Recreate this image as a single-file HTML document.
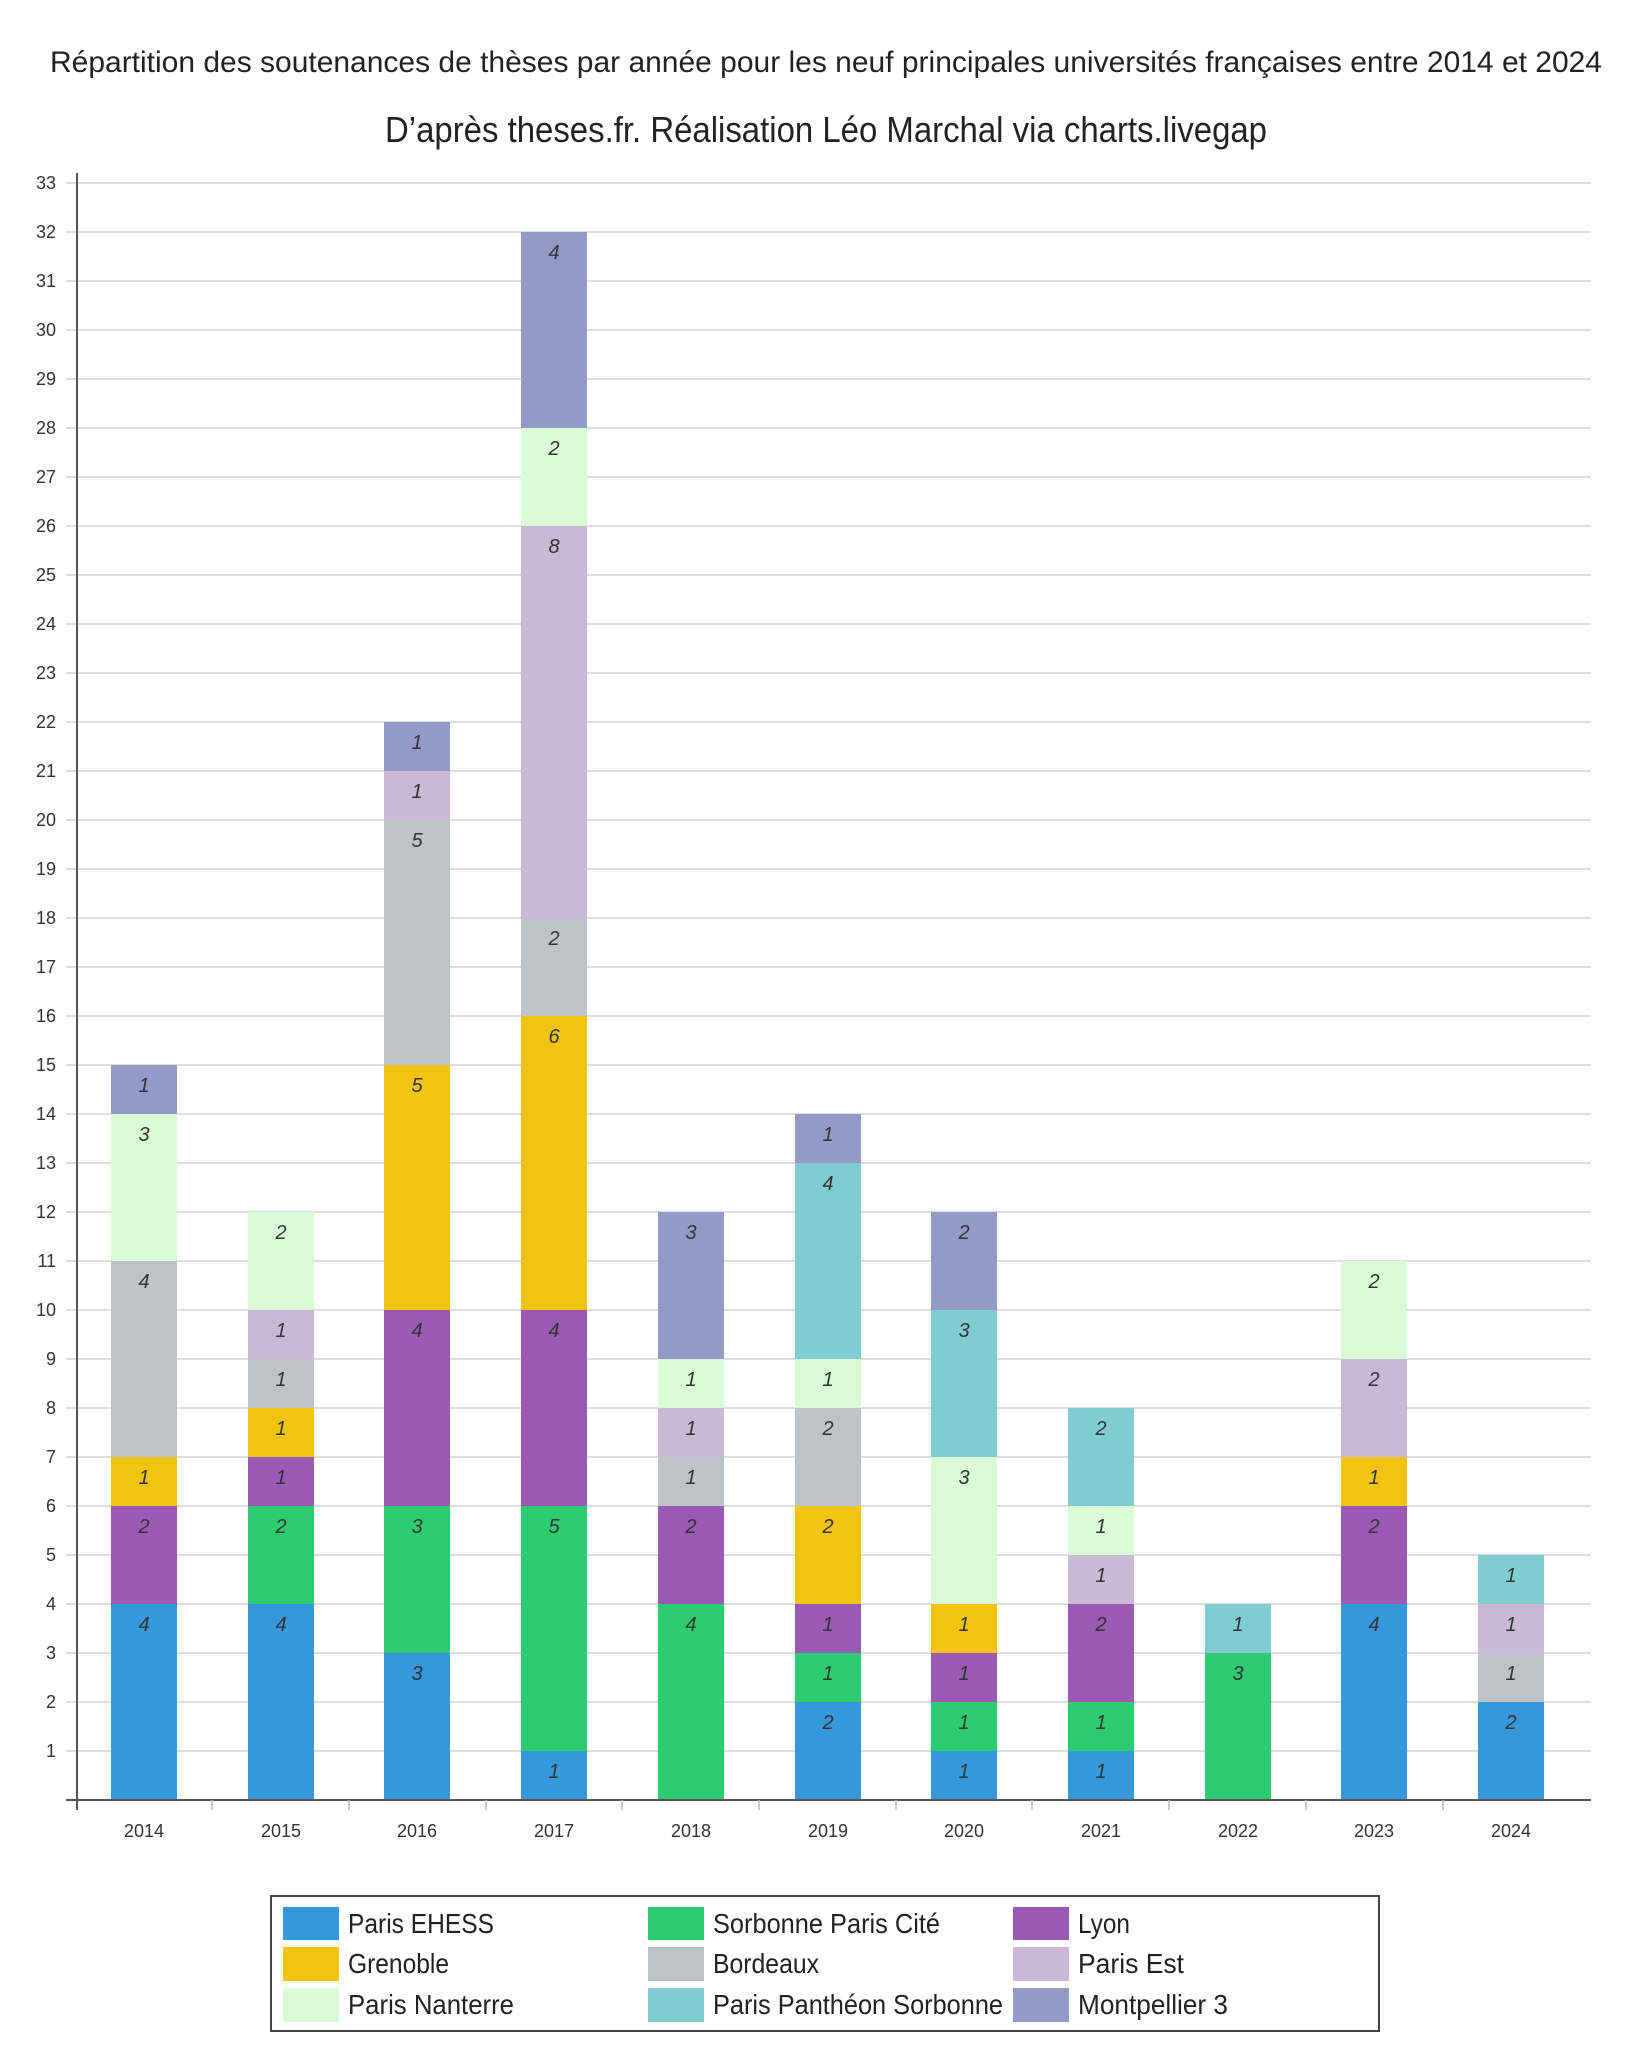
<!DOCTYPE html>
<html><head><meta charset="utf-8"><style>
html,body{margin:0;padding:0;background:#fff;}
svg{display:block;font-family:"Liberation Sans Narrow","Liberation Sans",sans-serif;}
.v{font-size:20px;font-style:italic;fill:#333;text-anchor:middle;}
.yl{font-size:18px;fill:#333;text-anchor:end;}
.xl{font-size:18px;fill:#333;text-anchor:middle;}
.lg{font-size:28px;fill:#222;}
</style></head><body>
<svg width="1652" height="2048" viewBox="0 0 1652 2048" xmlns="http://www.w3.org/2000/svg">
<rect width="1652" height="2048" fill="#fff"/>
<text x="826" y="72" font-size="30" fill="#222" text-anchor="middle" textLength="1552" lengthAdjust="spacingAndGlyphs">Répartition des soutenances de thèses par année pour les neuf principales universités françaises entre 2014 et 2024</text>
<text x="826" y="142" font-size="36" fill="#222" text-anchor="middle" textLength="882" lengthAdjust="spacingAndGlyphs">D’après theses.fr. Réalisation Léo Marchal via charts.livegap</text>
<g stroke="#d4d4d4" stroke-width="1.5">
<line x1="66" x2="1591" y1="1751" y2="1751"/><line x1="66" x2="1591" y1="1702" y2="1702"/><line x1="66" x2="1591" y1="1653" y2="1653"/><line x1="66" x2="1591" y1="1604" y2="1604"/><line x1="66" x2="1591" y1="1555" y2="1555"/><line x1="66" x2="1591" y1="1506" y2="1506"/><line x1="66" x2="1591" y1="1457" y2="1457"/><line x1="66" x2="1591" y1="1408" y2="1408"/><line x1="66" x2="1591" y1="1359" y2="1359"/><line x1="66" x2="1591" y1="1310" y2="1310"/><line x1="66" x2="1591" y1="1261" y2="1261"/><line x1="66" x2="1591" y1="1212" y2="1212"/><line x1="66" x2="1591" y1="1163" y2="1163"/><line x1="66" x2="1591" y1="1114" y2="1114"/><line x1="66" x2="1591" y1="1065" y2="1065"/><line x1="66" x2="1591" y1="1016" y2="1016"/><line x1="66" x2="1591" y1="967" y2="967"/><line x1="66" x2="1591" y1="918" y2="918"/><line x1="66" x2="1591" y1="869" y2="869"/><line x1="66" x2="1591" y1="820" y2="820"/><line x1="66" x2="1591" y1="771" y2="771"/><line x1="66" x2="1591" y1="722" y2="722"/><line x1="66" x2="1591" y1="673" y2="673"/><line x1="66" x2="1591" y1="624" y2="624"/><line x1="66" x2="1591" y1="575" y2="575"/><line x1="66" x2="1591" y1="526" y2="526"/><line x1="66" x2="1591" y1="477" y2="477"/><line x1="66" x2="1591" y1="428" y2="428"/><line x1="66" x2="1591" y1="379" y2="379"/><line x1="66" x2="1591" y1="330" y2="330"/><line x1="66" x2="1591" y1="281" y2="281"/><line x1="66" x2="1591" y1="232" y2="232"/><line x1="66" x2="1591" y1="183" y2="183"/>
</g>
<g class="yl">
<text x="56" y="1757">1</text><text x="56" y="1708">2</text><text x="56" y="1659">3</text><text x="56" y="1610">4</text><text x="56" y="1561">5</text><text x="56" y="1512">6</text><text x="56" y="1463">7</text><text x="56" y="1414">8</text><text x="56" y="1365">9</text><text x="56" y="1316">10</text><text x="56" y="1267">11</text><text x="56" y="1218">12</text><text x="56" y="1169">13</text><text x="56" y="1120">14</text><text x="56" y="1071">15</text><text x="56" y="1022">16</text><text x="56" y="973">17</text><text x="56" y="924">18</text><text x="56" y="875">19</text><text x="56" y="826">20</text><text x="56" y="777">21</text><text x="56" y="728">22</text><text x="56" y="679">23</text><text x="56" y="630">24</text><text x="56" y="581">25</text><text x="56" y="532">26</text><text x="56" y="483">27</text><text x="56" y="434">28</text><text x="56" y="385">29</text><text x="56" y="336">30</text><text x="56" y="287">31</text><text x="56" y="238">32</text><text x="56" y="189">33</text>
</g>
<g transform="translate(111,0)">
<rect y="1604" width="66" height="196" fill="#3498db"/><text class="v" x="33" y="1631">4</text>
<rect y="1506" width="66" height="98" fill="#9b59b6"/><text class="v" x="33" y="1533">2</text>
<rect y="1457" width="66" height="49" fill="#f1c40f"/><text class="v" x="33" y="1484">1</text>
<rect y="1261" width="66" height="196" fill="#bdc3c7"/><text class="v" x="33" y="1288">4</text>
<rect y="1114" width="66" height="147" fill="#d9fcd7"/><text class="v" x="33" y="1141">3</text>
<rect y="1065" width="66" height="49" fill="#949ac7"/><text class="v" x="33" y="1092">1</text>
</g>
<g transform="translate(248,0)">
<rect y="1604" width="66" height="196" fill="#3498db"/><text class="v" x="33" y="1631">4</text>
<rect y="1506" width="66" height="98" fill="#2ecc71"/><text class="v" x="33" y="1533">2</text>
<rect y="1457" width="66" height="49" fill="#9b59b6"/><text class="v" x="33" y="1484">1</text>
<rect y="1408" width="66" height="49" fill="#f1c40f"/><text class="v" x="33" y="1435">1</text>
<rect y="1359" width="66" height="49" fill="#bdc3c7"/><text class="v" x="33" y="1386">1</text>
<rect y="1310" width="66" height="49" fill="#c9b8d6"/><text class="v" x="33" y="1337">1</text>
<rect y="1212" width="66" height="98" fill="#d9fcd7"/><text class="v" x="33" y="1239">2</text>
</g>
<g transform="translate(384,0)">
<rect y="1653" width="66" height="147" fill="#3498db"/><text class="v" x="33" y="1680">3</text>
<rect y="1506" width="66" height="147" fill="#2ecc71"/><text class="v" x="33" y="1533">3</text>
<rect y="1310" width="66" height="196" fill="#9b59b6"/><text class="v" x="33" y="1337">4</text>
<rect y="1065" width="66" height="245" fill="#f1c40f"/><text class="v" x="33" y="1092">5</text>
<rect y="820" width="66" height="245" fill="#bdc3c7"/><text class="v" x="33" y="847">5</text>
<rect y="771" width="66" height="49" fill="#c9b8d6"/><text class="v" x="33" y="798">1</text>
<rect y="722" width="66" height="49" fill="#949ac7"/><text class="v" x="33" y="749">1</text>
</g>
<g transform="translate(521,0)">
<rect y="1751" width="66" height="49" fill="#3498db"/><text class="v" x="33" y="1778">1</text>
<rect y="1506" width="66" height="245" fill="#2ecc71"/><text class="v" x="33" y="1533">5</text>
<rect y="1310" width="66" height="196" fill="#9b59b6"/><text class="v" x="33" y="1337">4</text>
<rect y="1016" width="66" height="294" fill="#f1c40f"/><text class="v" x="33" y="1043">6</text>
<rect y="918" width="66" height="98" fill="#bdc3c7"/><text class="v" x="33" y="945">2</text>
<rect y="526" width="66" height="392" fill="#c9b8d6"/><text class="v" x="33" y="553">8</text>
<rect y="428" width="66" height="98" fill="#d9fcd7"/><text class="v" x="33" y="455">2</text>
<rect y="232" width="66" height="196" fill="#949ac7"/><text class="v" x="33" y="259">4</text>
</g>
<g transform="translate(658,0)">
<rect y="1604" width="66" height="196" fill="#2ecc71"/><text class="v" x="33" y="1631">4</text>
<rect y="1506" width="66" height="98" fill="#9b59b6"/><text class="v" x="33" y="1533">2</text>
<rect y="1457" width="66" height="49" fill="#bdc3c7"/><text class="v" x="33" y="1484">1</text>
<rect y="1408" width="66" height="49" fill="#c9b8d6"/><text class="v" x="33" y="1435">1</text>
<rect y="1359" width="66" height="49" fill="#d9fcd7"/><text class="v" x="33" y="1386">1</text>
<rect y="1212" width="66" height="147" fill="#949ac7"/><text class="v" x="33" y="1239">3</text>
</g>
<g transform="translate(795,0)">
<rect y="1702" width="66" height="98" fill="#3498db"/><text class="v" x="33" y="1729">2</text>
<rect y="1653" width="66" height="49" fill="#2ecc71"/><text class="v" x="33" y="1680">1</text>
<rect y="1604" width="66" height="49" fill="#9b59b6"/><text class="v" x="33" y="1631">1</text>
<rect y="1506" width="66" height="98" fill="#f1c40f"/><text class="v" x="33" y="1533">2</text>
<rect y="1408" width="66" height="98" fill="#bdc3c7"/><text class="v" x="33" y="1435">2</text>
<rect y="1359" width="66" height="49" fill="#d9fcd7"/><text class="v" x="33" y="1386">1</text>
<rect y="1163" width="66" height="196" fill="#7fcdd1"/><text class="v" x="33" y="1190">4</text>
<rect y="1114" width="66" height="49" fill="#949ac7"/><text class="v" x="33" y="1141">1</text>
</g>
<g transform="translate(931,0)">
<rect y="1751" width="66" height="49" fill="#3498db"/><text class="v" x="33" y="1778">1</text>
<rect y="1702" width="66" height="49" fill="#2ecc71"/><text class="v" x="33" y="1729">1</text>
<rect y="1653" width="66" height="49" fill="#9b59b6"/><text class="v" x="33" y="1680">1</text>
<rect y="1604" width="66" height="49" fill="#f1c40f"/><text class="v" x="33" y="1631">1</text>
<rect y="1457" width="66" height="147" fill="#d9fcd7"/><text class="v" x="33" y="1484">3</text>
<rect y="1310" width="66" height="147" fill="#7fcdd1"/><text class="v" x="33" y="1337">3</text>
<rect y="1212" width="66" height="98" fill="#949ac7"/><text class="v" x="33" y="1239">2</text>
</g>
<g transform="translate(1068,0)">
<rect y="1751" width="66" height="49" fill="#3498db"/><text class="v" x="33" y="1778">1</text>
<rect y="1702" width="66" height="49" fill="#2ecc71"/><text class="v" x="33" y="1729">1</text>
<rect y="1604" width="66" height="98" fill="#9b59b6"/><text class="v" x="33" y="1631">2</text>
<rect y="1555" width="66" height="49" fill="#c9b8d6"/><text class="v" x="33" y="1582">1</text>
<rect y="1506" width="66" height="49" fill="#d9fcd7"/><text class="v" x="33" y="1533">1</text>
<rect y="1408" width="66" height="98" fill="#7fcdd1"/><text class="v" x="33" y="1435">2</text>
</g>
<g transform="translate(1205,0)">
<rect y="1653" width="66" height="147" fill="#2ecc71"/><text class="v" x="33" y="1680">3</text>
<rect y="1604" width="66" height="49" fill="#7fcdd1"/><text class="v" x="33" y="1631">1</text>
</g>
<g transform="translate(1341,0)">
<rect y="1604" width="66" height="196" fill="#3498db"/><text class="v" x="33" y="1631">4</text>
<rect y="1506" width="66" height="98" fill="#9b59b6"/><text class="v" x="33" y="1533">2</text>
<rect y="1457" width="66" height="49" fill="#f1c40f"/><text class="v" x="33" y="1484">1</text>
<rect y="1359" width="66" height="98" fill="#c9b8d6"/><text class="v" x="33" y="1386">2</text>
<rect y="1261" width="66" height="98" fill="#d9fcd7"/><text class="v" x="33" y="1288">2</text>
</g>
<g transform="translate(1478,0)">
<rect y="1702" width="66" height="98" fill="#3498db"/><text class="v" x="33" y="1729">2</text>
<rect y="1653" width="66" height="49" fill="#bdc3c7"/><text class="v" x="33" y="1680">1</text>
<rect y="1604" width="66" height="49" fill="#c9b8d6"/><text class="v" x="33" y="1631">1</text>
<rect y="1555" width="66" height="49" fill="#7fcdd1"/><text class="v" x="33" y="1582">1</text>
</g>
<line x1="77" y1="173" x2="77" y2="1810" stroke="#555" stroke-width="2"/>
<line x1="66" y1="1800" x2="1591" y2="1800" stroke="#555" stroke-width="2"/>
<g stroke="#bbb" stroke-width="1.5">
<line x1="212" x2="212" y1="1800" y2="1810"/><line x1="349" x2="349" y1="1800" y2="1810"/><line x1="486" x2="486" y1="1800" y2="1810"/><line x1="622" x2="622" y1="1800" y2="1810"/><line x1="759" x2="759" y1="1800" y2="1810"/><line x1="896" x2="896" y1="1800" y2="1810"/><line x1="1032" x2="1032" y1="1800" y2="1810"/><line x1="1169" x2="1169" y1="1800" y2="1810"/><line x1="1306" x2="1306" y1="1800" y2="1810"/><line x1="1443" x2="1443" y1="1800" y2="1810"/>
</g>
<g class="xl">
<text x="144" y="1837">2014</text><text x="281" y="1837">2015</text><text x="417" y="1837">2016</text><text x="554" y="1837">2017</text><text x="691" y="1837">2018</text><text x="828" y="1837">2019</text><text x="964" y="1837">2020</text><text x="1101" y="1837">2021</text><text x="1238" y="1837">2022</text><text x="1374" y="1837">2023</text><text x="1511" y="1837">2024</text>
</g>
<rect x="271" y="1896" width="1108" height="135" fill="#fff" stroke="#444" stroke-width="2"/>
<rect x="283" y="1907" width="56" height="33" fill="#3498db"/><text class="lg" x="348" y="1933" textLength="146" lengthAdjust="spacingAndGlyphs">Paris EHESS</text>
<rect x="283" y="1947" width="56" height="34" fill="#f1c40f"/><text class="lg" x="348" y="1973" textLength="101" lengthAdjust="spacingAndGlyphs">Grenoble</text>
<rect x="283" y="1988" width="56" height="34" fill="#d9fcd7"/><text class="lg" x="348" y="2014" textLength="166" lengthAdjust="spacingAndGlyphs">Paris Nanterre</text>
<rect x="648" y="1907" width="56" height="33" fill="#2ecc71"/><text class="lg" x="713" y="1933" textLength="227" lengthAdjust="spacingAndGlyphs">Sorbonne Paris Cité</text>
<rect x="648" y="1947" width="56" height="34" fill="#bdc3c7"/><text class="lg" x="713" y="1973" textLength="106" lengthAdjust="spacingAndGlyphs">Bordeaux</text>
<rect x="648" y="1988" width="56" height="34" fill="#7fcdd1"/><text class="lg" x="713" y="2014" textLength="290" lengthAdjust="spacingAndGlyphs">Paris Panthéon Sorbonne</text>
<rect x="1013" y="1907" width="56" height="33" fill="#9b59b6"/><text class="lg" x="1078" y="1933" textLength="52" lengthAdjust="spacingAndGlyphs">Lyon</text>
<rect x="1013" y="1947" width="56" height="34" fill="#c9b8d6"/><text class="lg" x="1078" y="1973" textLength="106" lengthAdjust="spacingAndGlyphs">Paris Est</text>
<rect x="1013" y="1988" width="56" height="34" fill="#949ac7"/><text class="lg" x="1078" y="2014" textLength="150" lengthAdjust="spacingAndGlyphs">Montpellier 3</text>
</svg>
</body></html>
